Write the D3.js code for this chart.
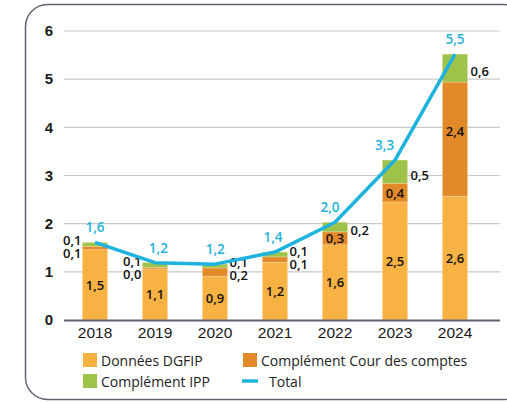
<!DOCTYPE html>
<html>
<head>
<meta charset="utf-8">
<script src="https://cdn.jsdelivr.net/npm/d3@7"></script>
<style>
  body { margin: 0; background: #fff; }
  svg { display: block; font-family: "Open Sans", "Noto Sans", sans-serif; }
</style>
</head>
<body>
<div id="chart"></div>
<script>
const annees = ["2018", "2019", "2020", "2021", "2022", "2023", "2024"];
const dgfip = [1.46, 1.06, 0.91, 1.2, 1.56, 2.45, 2.57];
const courComptes = [0.07, 0.03, 0.17, 0.11, 0.27, 0.39, 2.37];
const ipp = [0.08, 0.1, 0.08, 0.1, 0.2, 0.48, 0.58];
const yTicks = [0, 1, 2, 3, 4, 5, 6];

const couleurs = { dgfip: "#f8b143", cour: "#e2892a", ipp: "#9dc34b", total: "#1eb3de" };

const width = 507;
const height = 404;

const svg = d3.select("#chart")
  .append("svg")
  .attr("width", width)
  .attr("height", height);

// cadre arrondi
svg.append("rect")
  .attr("x", 25.5)
  .attr("y", 4.5)
  .attr("width", 500)
  .attr("height", 395)
  .attr("rx", 22)
  .attr("fill", "none")
  .attr("stroke", "#5f6672")
  .attr("stroke-width", 1.5);

const data = annees.map((a, i) => ({
  annee: a,
  dgfip: dgfip[i],
  cour: courComptes[i],
  ipp: ipp[i],
  total: dgfip[i] + courComptes[i] + ipp[i]
}));

const x = d3.scaleBand()
  .domain(annees)
  .range([65, 485])
  .paddingInner(0.58)
  .paddingOuter(0.29);

const y = d3.scaleLinear()
  .domain([0, 6])
  .range([320, 31]);

const fmt = (v) => d3.format(".1f")(v).replace(".", ",");

// grille
svg.append("g")
  .selectAll("line")
  .data(yTicks.filter((d) => d > 0))
  .enter()
  .append("line")
  .attr("x1", 64)
  .attr("x2", 500)
  .attr("y1", (d) => y(d))
  .attr("y2", (d) => y(d))
  .attr("stroke", "#c9c9c9")
  .attr("stroke-width", 1.2);

// axe y
const yAxis = d3.axisLeft(y).tickValues(yTicks).tickFormat(d3.format("d")).tickSize(0).tickPadding(0);
svg.append("g")
  .attr("transform", "translate(53,0)")
  .call(yAxis)
  .call((g) => g.select(".domain").remove())
  .selectAll("text")
  .attr("fill", "#1a1a1a")
  .style("font-size", "15px")
  .style("font-weight", "bold")
  .attr("text-anchor", "end");

// barres empilées
const stack = d3.stack().keys(["dgfip", "cour", "ipp"]);
const series = stack(data);

svg.append("g")
  .selectAll("g")
  .data(series)
  .enter()
  .append("g")
  .attr("fill", (s) => couleurs[s.key])
  .selectAll("rect")
  .data((s) => s)
  .enter()
  .append("rect")
  .attr("x", (d) => x(d.data.annee))
  .attr("y", (d) => y(d[1]))
  .attr("width", x.bandwidth())
  .attr("height", (d) => y(d[0]) - y(d[1]))
  .attr("stroke", "#fce3b0")
  .attr("stroke-width", 0.6)
  .attr("stroke-opacity", 0.6);

// axe x
const xAxis = d3.axisBottom(x).tickSize(0).tickPadding(7);
svg.append("g")
  .attr("transform", "translate(0,320)")
  .call(xAxis)
  .call((g) => g.select(".domain").remove())
  .selectAll("text")
  .attr("fill", "#1a1a1a")
  .style("font-size", "15.5px");

svg.append("line")
  .attr("x1", 64)
  .attr("x2", 500)
  .attr("y1", 320.5)
  .attr("y2", 320.5)
  .attr("stroke", "#5c6370")
  .attr("stroke-width", 2);

// étiquettes dans les barres
const labelStyle = (sel) => sel
  .attr("fill", "#111")
  .style("font-size", "13px")
  .style("font-weight", "600")
  .attr("dominant-baseline", "central");

const cx = (d) => x(d.annee) + x.bandwidth() / 2;

svg.append("g")
  .selectAll("text")
  .data(data)
  .enter()
  .append("text")
  .attr("x", cx)
  .attr("y", (d) => y(d.dgfip / 2))
  .attr("text-anchor", "middle")
  .call(labelStyle)
  .text((d) => fmt(d.dgfip));

// complément cour : dedans si assez haut, sinon à côté
const grand = (d) => d.cour >= 0.25;
const gauche = (d, i) => i < 2;

svg.append("g")
  .selectAll("text")
  .data(data)
  .enter()
  .append("text")
  .each(function (d, i) {
    const t = d3.select(this);
    if (grand(d)) {
      t.attr("x", cx(d))
        .attr("y", y(d.dgfip + d.cour / 2) - (d.cour > 1 ? 8 : 0))
        .attr("text-anchor", "middle");
    } else {
      const yb = y(d.dgfip + d.cour);
      t.attr("x", gauche(d, i) ? x(d.annee) - 1 : x(d.annee) + x.bandwidth() + 2)
        .attr("y", yb + 7)
        .attr("text-anchor", gauche(d, i) ? "end" : "start");
    }
  })
  .call(labelStyle)
  .text((d) => fmt(d.cour));

svg.append("g")
  .selectAll("text")
  .data(data)
  .enter()
  .append("text")
  .each(function (d, i) {
    const t = d3.select(this);
    if (grand(d)) {
      t.attr("x", x(d.annee) + x.bandwidth() + 3)
        .attr("y", y(d.dgfip + d.cour + d.ipp / 2) + 3);
    } else {
      const yb = y(d.dgfip + d.cour);
      t.attr("x", gauche(d, i) ? x(d.annee) - 1 : x(d.annee) + x.bandwidth() + 2)
        .attr("y", yb - 6)
        .attr("text-anchor", gauche(d, i) ? "end" : "start");
    }
  })
  .call(labelStyle)
  .text((d) => fmt(d.ipp));

// courbe total
const line = d3.line()
  .x(cx)
  .y((d) => y(d.total));

svg.append("path")
  .datum(data)
  .attr("d", line)
  .attr("fill", "none")
  .attr("stroke", couleurs.total)
  .attr("stroke-width", 3.5)
  .attr("stroke-linejoin", "round");

// décalage des étiquettes du total selon la pente (éviter la courbe)
const decalage = (d, i) =>
  i === 0 || i === data.length - 1 ? 0 : -8 * (d.total - data[i - 1].total);

svg.append("g")
  .selectAll("text")
  .data(data)
  .enter()
  .append("text")
  .attr("x", (d, i) => cx(d) + decalage(d, i))
  .attr("y", (d) => y(d.total) - 10)
  .attr("text-anchor", "middle")
  .attr("fill", couleurs.total)
  .style("font-size", "13.5px")
  .style("font-weight", "600")
  .text((d) => fmt(d.total));

// légende
const legende = [
  { label: "Données DGFIP", key: "dgfip", x: 83, y: 360, type: "rect" },
  { label: "Complément Cour des comptes", key: "cour", x: 243, y: 360, type: "rect" },
  { label: "Complément IPP", key: "ipp", x: 83, y: 381, type: "rect" },
  { label: "Total", key: "total", x: 242, y: 381, type: "line" }
];

const leg = svg.append("g")
  .selectAll("g")
  .data(legende)
  .enter()
  .append("g")
  .attr("transform", (d) => `translate(${d.x},${d.y})`);

leg.filter((d) => d.type === "rect")
  .append("rect")
  .attr("x", 0)
  .attr("y", -7)
  .attr("width", 14)
  .attr("height", 14)
  .attr("fill", (d) => couleurs[d.key]);

leg.filter((d) => d.type === "line")
  .append("line")
  .attr("x1", 0)
  .attr("x2", 16)
  .attr("stroke", couleurs.total)
  .attr("stroke-width", 3.5);

leg.append("text")
  .attr("x", (d) => (d.type === "line" ? 27 : 18))
  .attr("dominant-baseline", "central")
  .attr("fill", "#222")
  .style("font-size", "14px")
  .text((d) => d.label);
</script>
</body>
</html>
